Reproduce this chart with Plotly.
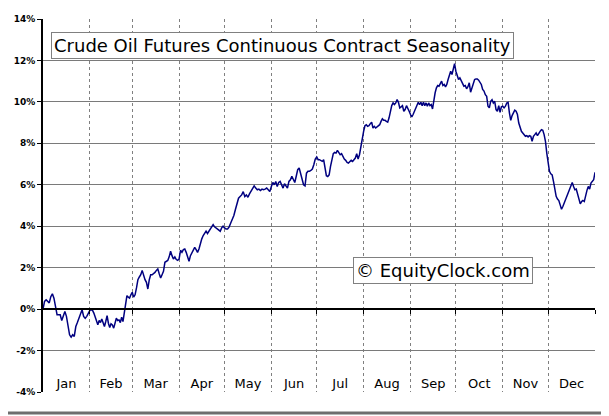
import plotly.graph_objects as go

months = ["Jan", "Feb", "Mar", "Apr", "May", "Jun", "Jul", "Aug", "Sep", "Oct", "Nov", "Dec"]
month_days = [31, 28, 31, 30, 31, 30, 31, 31, 30, 31, 30, 31]

start_value = 0.0
jan = [0.37, 0.45, 0.37, 0.3, 0.6, 0.74, 0.53, 0.05, -0.27, -0.27, -0.27, -0.55, -0.27, -0.11, -0.35,
       -0.76, -1.24, -1.35, -1.24, -1.32, -0.84, -0.65, -0.44, -0.24, -0.03, -0.35, -0.44, -0.35, -0.16, -0.06]
feb = [-0.03, -0.06, -0.19, -0.35, -0.55, -0.76, -0.55, -0.65, -0.48, -0.68, -0.84, -0.6, -0.32, -0.68, -0.89,
       -0.71, -0.76, -0.92, -0.6, -0.44, -0.55, -0.52, -0.65, -0.39, -0.6, -0.19, 0.37, 0.65, 0.58, 0.53, 0.69, 0.81]
mar = [0.58, 0.69, 1.02, 1.42, 1.55, 1.66, 1.87, 1.58, 1.42, 1.29, 0.97, 1.42, 1.66, 1.66, 1.71, 1.77, 1.87,
       1.94, 1.71, 1.5, 1.66, 1.82, 2.26, 2.31, 2.35, 2.52, 2.79, 2.58, 2.42, 2.52, 2.39, 2.35, 2.42]
apr = [2.84, 2.74, 2.87, 2.9, 2.74, 2.52, 2.31, 2.58, 2.71, 2.9, 2.98, 2.87, 2.74, 2.9, 3.19, 3.39, 3.55,
       3.68, 3.76, 3.65, 3.76, 3.92, 4.03, 4.08, 3.97, 3.92, 3.87, 3.84, 3.76, 3.92, 4.0, 3.92]
may = [3.87, 3.87, 3.97, 4.16, 4.32, 4.52, 4.81, 5.13, 5.35, 5.43, 5.51, 5.67, 5.43, 5.51, 5.4, 5.56, 5.67,
       5.79, 5.95, 5.84, 5.76, 5.79, 5.72, 5.79, 5.76, 5.79, 5.84, 5.76, 5.67, 5.92]
jun = [6.11, 6.0, 6.16, 5.92, 6.11, 6.16, 5.95, 5.84, 6.05, 5.92, 5.84, 6.16, 6.24, 6.41, 6.28, 6.11, 6.41,
       6.73, 6.81, 6.49, 6.16, 6.0, 5.95, 6.56, 6.65, 6.65, 6.69, 6.76, 6.97, 7.24, 7.34]
jul = [7.21, 7.21, 7.18, 7.13, 7.21, 6.89, 6.44, 6.4, 6.48, 6.89, 7.29, 7.5, 7.56, 7.53, 7.66, 7.53, 7.45,
       7.5, 7.34, 7.24, 7.18, 7.08, 7.05, 7.13, 7.18, 7.13, 7.21, 7.29, 7.5, 7.24, 7.45, 7.89, 8.31, 8.58]
aug = [8.85, 8.9, 8.82, 8.85, 8.95, 9.02, 8.74, 8.82, 8.74, 8.79, 8.85, 8.9, 9.06, 9.18, 9.11, 9.11, 9.06,
       9.02, 9.23, 9.63, 9.82, 9.95, 9.87, 9.95, 10.11, 9.98, 9.71, 9.76, 9.82, 9.55, 9.63, 9.82, 9.71, 9.55, 9.39]
sep = [9.27, 9.39, 9.55, 9.63, 9.82, 9.98, 9.87, 9.98, 9.82, 9.98, 9.82, 9.95, 9.79, 9.95, 9.82, 9.87, 9.66,
       10.11, 10.44, 10.68, 10.79, 10.76, 10.92, 11.0, 10.79, 10.84, 10.73, 10.84, 11.08, 11.32, 11.48, 11.32,
       11.65, 11.85, 11.48]
oct_ = [11.27, 11.08, 11.16, 11.0, 10.84, 10.76, 10.79, 10.63, 10.73, 10.92, 10.47, 10.68, 10.92, 11.08, 11.11,
        11.11, 11.05, 10.95, 10.84, 10.6, 10.52, 10.35, 10.27, 9.79, 9.71, 10.03, 10.11, 9.95, 10.03, 9.63, 9.55,
        9.82, 9.5, 9.76, 9.79]
nov = [9.71, 9.79, 9.95, 9.98, 9.47, 9.11, 9.34, 9.5, 9.6, 9.55, 9.39, 8.98, 8.74, 8.58, 8.5, 8.42, 8.34,
       8.37, 8.31, 8.37, 8.34, 8.1, 8.34, 8.42, 8.5, 8.37, 8.5, 8.58, 8.66, 8.63, 8.42, 8.1, 7.53, 7.05]
dec = [6.65, 6.53, 6.48, 6.16, 5.76, 5.44, 5.31, 5.24, 5.03, 4.82, 4.95, 5.11, 5.27, 5.44, 5.6, 5.76, 5.92,
       6.11, 5.92, 5.76, 5.79, 5.52, 5.35, 5.08, 5.19, 5.24, 5.19, 5.52, 5.73, 5.92, 5.79, 6.08, 6.16, 6.24, 6.6]
monthly_values = [jan, feb, mar, apr, may, jun, jul, aug, sep, oct_, nov, dec]

y_tick_values = [-4, -2, 0, 2, 4, 6, 8, 10, 12, 14]
y_tick_labels = ["-4%", "-2%", "0%", "2%", "4%", "6%", "8%", "10%", "12%", "14%"]
y_grid_values = [-2, 0, 2, 4, 6, 8, 10, 12]

title_text = "Crude Oil Futures Continuous Contract Seasonality"
credit_text = "© EquityClock.com"

# day-of-year positions: readings spread evenly across each month
month_starts = []
acc = 0
for d in month_days:
    month_starts.append(acc)
    acc += d
year_len = acc
month_ends = [s + d for s, d in zip(month_starts, month_days)]
month_mids = [s + d / 2 for s, d in zip(month_starts, month_days)]

xs = [0.0]
ys = [start_value]
for s, d, vals in zip(month_starts, month_days, monthly_values):
    n = len(vals)
    for i, v in enumerate(vals):
        xs.append(s + d * (i + 1) / n)
        ys.append(v)

y_min, y_max = -4, 14
zero_pos = (0 - y_min) / (y_max - y_min)

fig = go.Figure()
fig.add_trace(go.Scatter(x=xs, y=ys, mode="lines", line=dict(color="#000080", width=1.5),
                         showlegend=False, hoverinfo="skip"))

fig.update_layout(
    width=601, height=408,
    margin=dict(l=35, r=14, t=11, b=24, autoexpand=False),
    paper_bgcolor="white", plot_bgcolor="white",
    font=dict(family="DejaVu Sans", color="black"),
    # month names sit just above the bottom edge of the plot area
    xaxis=dict(range=[0, year_len], tickmode="array", tickvals=month_mids, ticktext=months,
               anchor="free", position=0.047,
               showgrid=False, zeroline=False, showline=False, ticks="", automargin=False,
               tickfont=dict(size=13, family="DejaVu Sans")),
    # month boundaries: dotted grid + ticks on the 0% line
    xaxis2=dict(matches="x", overlaying="x", anchor="free", position=zero_pos, automargin=False,
                tickmode="array", tickvals=month_ends[:-1], showticklabels=False,
                showgrid=True, gridcolor="#808080", gridwidth=1, griddash="dot",
                showline=True, linecolor="black", linewidth=2,
                ticks="outside", ticklen=4, tickcolor="black", tickwidth=1, zeroline=False,
                minor=dict(tickmode="array", tickvals=[year_len], ticks="outside", ticklen=4,
                           tickcolor="black", tickwidth=1, showgrid=False)),
    yaxis=dict(range=[y_min, y_max], tickmode="array", tickvals=y_tick_values, ticktext=y_tick_labels,
               showgrid=False, zeroline=False, automargin=False,
               showline=True, linecolor="black", linewidth=2,
               ticks="outside", ticklen=4, tickcolor="black",
               tickfont=dict(size=9, family="DejaVu Sans", weight="bold")),
    yaxis2=dict(matches="y", overlaying="y", tickmode="array", tickvals=y_grid_values, automargin=False,
                showticklabels=False, ticks="", showline=False, zeroline=False,
                showgrid=True, gridcolor="#7a7a7a", gridwidth=1),
)
# invisible trace so the helper axes render
fig.add_trace(go.Scatter(x=[0, year_len], y=[0, 0], xaxis="x2", yaxis="y2", mode="lines",
                         line=dict(width=0), showlegend=False, hoverinfo="skip"))

fig.add_annotation(xref="paper", yref="paper", x=0.0145, y=0.965, xanchor="left", yanchor="top",
                   text=title_text, showarrow=False, font=dict(size=18, family="DejaVu Sans"),
                   bgcolor="white", bordercolor="#808080", borderwidth=1, borderpad=2)
fig.add_annotation(xref="paper", yref="paper", x=0.5616, y=0.362, xanchor="left", yanchor="top",
                   text=credit_text, showarrow=False, font=dict(size=18, family="DejaVu Sans"),
                   bgcolor="white", bordercolor="#808080", borderwidth=1, borderpad=2)

# drop shadow of the chart frame
fig.add_shape(type="line", xref="paper", yref="paper", x0=1.0199, x1=1.0199, y0=1.024, y1=-0.0563,
              line=dict(color="#6e6e6e", width=3))
fig.add_shape(type="line", xref="paper", yref="paper", x0=-0.0743, x1=1.0199, y0=-0.0563, y1=-0.0563,
              line=dict(color="#6e6e6e", width=3))

fig.write_html("out.html")
